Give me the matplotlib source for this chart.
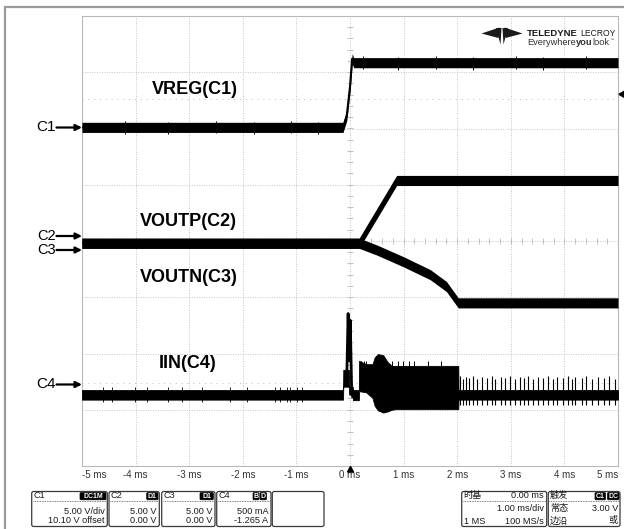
import numpy as np
import matplotlib
matplotlib.use("Agg")
import matplotlib.pyplot as plt
from matplotlib.patches import FancyBboxPatch, Polygon

# channel setup: (units per div, offset)
C1_SCALE, C1_OFFSET = 5.0, 10.10
C2_SCALE, C2_OFFSET = 5.0, 0.0
C3_SCALE, C3_OFFSET = 5.0, 0.0
C4_SCALE, C4_OFFSET = 0.5, -1.265

# VREG (C1), volts
t_vreg = [-5.0, -0.13, -0.06, 0.0, 0.04, 0.07, 5.0]
v_vreg = [0.0, 0.0, 1.05, 3.6, 6.1, 5.75, 5.75]
vreg_hw = 0.45
vreg_glitch_t = [-4.2, -3.4, -2.5, -1.8, -1.1, -0.6, 0.25, 0.9, 1.6, 2.3, 3.1, 3.6, 4.4]
vreg_glitch_lo = [-0.55, -0.55, -0.5, -0.55, -0.5, -0.55, 5.15, 5.1, 5.15, 5.1, 5.15, 5.1, 5.15]
vreg_glitch_hi = [0.55, 0.5, 0.55, 0.5, 0.55, 0.5, 6.35, 6.3, 6.35, 6.3, 6.35, 6.3, 6.35]

# VOUTP (C2), volts
t_voutp = [-5.0, 0.17, 0.87, 5.0]
v_voutp = [-0.2, -0.2, 5.38, 5.38]

# VOUTN (C3), volts
t_voutn = [-5.0, 0.17, 0.5, 1.0, 1.5, 1.8, 2.02, 5.0]
v_voutn = [-0.2, -0.2, -0.8, -1.85, -3.0, -4.05, -5.5, -5.5]
vout_hw = 0.45

# IIN (C4), amps - envelope of the trace
t_iin = [-5.0, -0.13, -0.125, -0.02, -0.015, 0.05, 0.055, 0.165, 0.17, 0.30,
         0.42, 0.46, 0.52, 0.62, 0.70, 0.78, 0.85, 2.02, 2.025, 5.0]
iin_hi = [-0.06, -0.06, 0.12, 0.12, -0.03, -0.03, -0.06, -0.06, 0.20, 0.17,
          0.17, 0.23, 0.26, 0.25, 0.19, 0.155, 0.155, 0.155, -0.06, -0.06]
iin_lo = [-0.145, -0.145, -0.03, -0.03, -0.10, -0.10, -0.15, -0.15, -0.07, -0.08,
          -0.13, -0.20, -0.24, -0.26, -0.25, -0.235, -0.23, -0.23, -0.145, -0.145]
# inrush peaks right at the enable edge
t_iin_pk = [-0.06, -0.035, -0.015, 0.005, 0.03, 0.05]
i_iin_pk = [0.05, 0.62, 0.20, 0.56, -0.05, -0.12]
# switching spikes
t_pre = [-4.61, -4.44, -4.01, -3.79, -3.40, -3.13, -2.76, -2.24, -1.92, -1.40,
         -1.31, -1.18, -1.12, -0.99, -0.90]
t_burst = [0.21, 0.26, 0.30, 0.79, 0.90, 0.99, 1.11, 1.20, 1.45, 1.70]
t_post = [2.05, 2.11, 2.16, 2.22, 2.30, 2.37, 2.46, 2.55, 2.64, 2.71, 2.81, 2.89,
          2.98, 3.08, 3.17, 3.25, 3.33, 3.42, 3.50, 3.61, 3.70, 3.78, 3.87, 3.98,
          4.07, 4.14, 4.20, 4.32, 4.41, 4.52, 4.63, 4.73, 4.84, 4.94]
post_hi = [0.065, 0.04, 0.06, 0.05, 0.065, 0.035, 0.06, 0.05, 0.065, 0.04, 0.06, 0.05,
           0.065, 0.04, 0.06, 0.05, 0.065, 0.035, 0.06, 0.05, 0.065, 0.04, 0.06, 0.05,
           0.065, 0.04, 0.06, 0.05, 0.065, 0.035, 0.06, 0.05, 0.065, 0.04]

xtick_ms = [-5, -4, -3, -2, -1, 0, 1, 2, 3, 4, 5]


def to_div(v, scale, offset):
    return (np.asarray(v) + offset) / scale


fig = plt.figure(figsize=(6.24, 5.29), dpi=100, facecolor='white')
ax = fig.add_axes([82 / 624, 1 - 466 / 529, 536 / 624, 450 / 529])
ax.set_xlim(-5, 5)
ax.set_ylim(-4, 4)
for s in ax.spines.values():
    s.set_color('#b8b8b8')
    s.set_linewidth(0.8)

# graticule
for x in range(-4, 5):
    ax.axvline(x, color='#c4c4c4', lw=0.7, ls=(0, (1, 1.5)), zorder=1)
for y in range(-3, 4):
    ax.axhline(y, color='#c4c4c4', lw=0.7, ls=(0, (1, 1.5)), zorder=1)
ax.vlines(np.arange(-5, 5.001, 0.2), -0.05, 0.05, color='#b8b8b8', lw=0.6, zorder=1)
ax.hlines(np.arange(-4, 4.001, 0.2), -0.055, 0.055, color='#b8b8b8', lw=0.6, zorder=1)
ax.axhline(2.52, color='#b8b8b8', lw=0.7, ls=(0, (1, 5)), zorder=1)
ax.axhline(-2.52, color='#b8b8b8', lw=0.7, ls=(0, (1, 5)), zorder=1)

ax.set_xticks(xtick_ms)
ax.set_xticklabels([f"{k} ms" for k in xtick_ms])
ax.set_yticks([])
ax.tick_params(axis='x', length=0, pad=3, labelsize=7, labelcolor='#333333')
labels = ax.get_xticklabels()
labels[0].set_ha('left')
labels[-1].set_ha('right')
for lb in labels:
    lb.set_family('Liberation Sans')

# VREG
c = to_div(v_vreg, C1_SCALE, C1_OFFSET)
ax.fill_between(t_vreg, c - vreg_hw / C1_SCALE, c + vreg_hw / C1_SCALE, color='black', lw=0, zorder=3)
ax.plot(t_vreg, c, color='black', lw=1.5, zorder=3)
ax.vlines(vreg_glitch_t, to_div(vreg_glitch_lo, C1_SCALE, C1_OFFSET),
          to_div(vreg_glitch_hi, C1_SCALE, C1_OFFSET), color='black', lw=0.7, zorder=3)

# VOUTP / VOUTN
c = to_div(v_voutp, C2_SCALE, C2_OFFSET)
ax.fill_between(t_voutp, c - vout_hw / C2_SCALE, c + vout_hw / C2_SCALE, color='black', lw=0, zorder=3)
ax.plot(t_voutp, c, color='black', lw=1.2, zorder=3)
c = to_div(v_voutn, C3_SCALE, C3_OFFSET)
ax.fill_between(t_voutn, c - vout_hw / C3_SCALE, c + vout_hw / C3_SCALE, color='black', lw=0, zorder=3)
ax.plot(t_voutn, c, color='black', lw=1.2, zorder=3)

# IIN
ax.fill_between(t_iin, to_div(iin_lo, C4_SCALE, C4_OFFSET), to_div(iin_hi, C4_SCALE, C4_OFFSET),
                color='black', lw=0.6, edgecolor='black', zorder=3)
ax.plot(t_iin_pk, to_div(i_iin_pk, C4_SCALE, C4_OFFSET), color='black', lw=2.0, zorder=3)
ax.vlines(t_pre, to_div([-0.17] * len(t_pre), C4_SCALE, C4_OFFSET),
          to_div([-0.035] * len(t_pre), C4_SCALE, C4_OFFSET), color='black', lw=0.6, zorder=3)
ax.vlines(t_burst, to_div([0.1] * len(t_burst), C4_SCALE, C4_OFFSET),
          to_div([0.20] * len(t_burst), C4_SCALE, C4_OFFSET), color='black', lw=0.7, zorder=3)
ax.vlines(t_post, to_div([-0.19] * len(t_post), C4_SCALE, C4_OFFSET),
          to_div(post_hi, C4_SCALE, C4_OFFSET), color='black', lw=0.8, zorder=3)

# overlay in pixel coordinates for the screen furniture
ov = fig.add_axes([0, 0, 1, 1])
ov.set_xlim(0, 624)
ov.set_ylim(529, 0)
ov.axis('off')

ov.plot([4, 624], [6.5, 6.5], color='#9a9a9a', lw=1.6, solid_capstyle='butt')
ov.plot([4.5, 4.5], [6, 529], color='#9a9a9a', lw=1.6, solid_capstyle='butt')

bold = dict(fontsize=13, fontweight='bold', va='center', ha='left', family='Liberation Sans')
ov.text(152, 89, "VREG(C1)", **bold)
ov.text(140, 221.5, "VOUTP(C2)", **bold)
ov.text(140, 277, "VOUTN(C3)", **bold)
ov.text(159, 364, "IIN(C4)", **bold)

for name, y, fs in [("C1", 127, 11), ("C2", 235.5, 10.5), ("C3", 249.5, 10.5), ("C4", 384, 11)]:
    ov.text(56, y, name, fontsize=fs, va='center', ha='right', family='Liberation Sans')
    ov.annotate("", xy=(82, y + 0.5), xytext=(56.5, y + 0.5),
                arrowprops=dict(arrowstyle='-|>', lw=1.6, color='black', mutation_scale=9,
                                shrinkA=0, shrinkB=0))

# trigger markers
ov.add_patch(Polygon([(619, 94.3), (624, 91.3), (624, 97.3)], closed=True, color='black'))
ov.add_patch(Polygon([(350.5, 466.5), (347.5, 472), (353.5, 472)], closed=True, color='black'))

# logo
for pts in [[(481.5, 33.5), (499.5, 27.5), (498.5, 38)],
            [(522.5, 33.5), (504.5, 27.5), (505.5, 38)],
            [(496, 28), (501.5, 28), (500.5, 44.5)],
            [(502.5, 28), (508, 28), (503.5, 44.5)]]:
    ov.add_patch(Polygon(pts, closed=True, color='#1a1a1a', lw=0))
ov.text(526.5, 33, "TELEDYNE", fontsize=6.8, fontweight='bold', va='center', ha='left',
        family='Liberation Sans', color='#1a1a1a')
ov.text(615.5, 33, "LECROY", fontsize=6.2, va='center', ha='right',
        family='Liberation Sans', color='#1a1a1a')

renderer = fig.canvas.get_renderer()
x = 527
for part, w in [("Everywhere", 'normal'), ("you", 'bold'), ("look", 'normal')]:
    t = ov.text(x, 42.5, part, fontsize=6.7, fontweight=w, va='center', ha='left',
                family='Liberation Sans', color='#333333')
    bb = t.get_window_extent(renderer)
    x += bb.width
ov.text(x + 0.3, 40, "™", fontsize=3.5, va='center', ha='left', color='#333333')

# status panels
cjk = ['Liberation Sans', 'Noto Sans CJK SC']


def box(x0, x1, y0=491.5, y1=526.5):
    ov.add_patch(FancyBboxPatch((x0, y0), x1 - x0, y1 - y0,
                                boxstyle="round,pad=0,rounding_size=2",
                                fc='white', ec='#3a3a3a', lw=0.9))


def sep(x0, x1):
    ov.plot([x0 + 1, x1 - 1], [500.8, 500.8], color='#555555', lw=0.6, ls=(0, (1, 1)))


def badge(x0, x1, text):
    ov.add_patch(FancyBboxPatch((x0, 492.6), x1 - x0, 7.2,
                                boxstyle="round,pad=0,rounding_size=1", fc='black', ec='black', lw=0.5))
    ov.text((x0 + x1) / 2, 496.3, text, fontsize=5, fontweight='bold', color='white',
            ha='center', va='center', family='Liberation Sans')


def txt(x, y, s, ha='left'):
    ov.text(x, y, s, fontsize=6.6, ha=ha, va='center', family=cjk, color='#1a1a1a')


panels = [(31.7, 107.3, "C1", [(80, 106, "DC1M")], ["5.00 V/div", "10.10 V offset"]),
          (109, 159.3, "C2", [(146.7, 158, "D1")], ["5.00 V", "0.00 V"]),
          (161.7, 215, "C3", [(200, 213.3, "D1")], ["5.00 V", "0.00 V"]),
          (216.7, 271, "C4", [(253, 259, "B"), (260, 266.5, "D")], ["500 mA", "-1.265 A"])]
for x0, x1, name, badges, rows in panels:
    box(x0, x1)
    sep(x0, x1)
    txt(x0 + 1.5, 495.5, name)
    for b0, b1, bt in badges:
        badge(b0, b1, bt)
    txt(x1 - 2.5, 511, rows[0], ha='right')
    txt(x1 - 2.5, 520.8, rows[1], ha='right')
box(272.3, 324)

box(461.7, 546.7)
sep(461.7, 546.7)
txt(463.5, 495.5, "时基")
txt(544, 495.5, "0.00 ms", ha='right')
txt(544, 508.5, "1.00 ms/div", ha='right')
txt(463.5, 521, "1 MS")
txt(544, 521, "100 MS/s", ha='right')

box(548.3, 620)
sep(548.3, 620)
txt(550, 495.5, "触发")
badge(595, 605.5, "C1")
badge(607.5, 619, "DC")
txt(550, 508.5, "常态")
txt(618, 508.5, "3.00 V", ha='right')
txt(550, 521, "边沿")
txt(618, 521, "或", ha='right')

fig.savefig("out.png", dpi=100, facecolor='white')
